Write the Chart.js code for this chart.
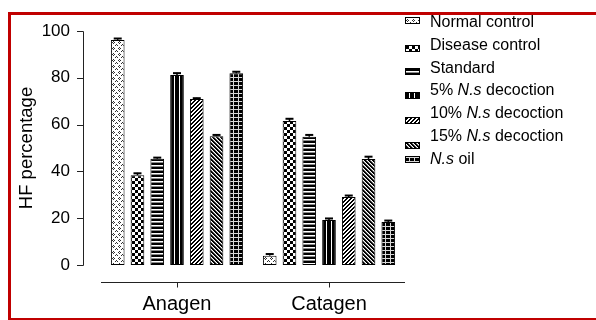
<!DOCTYPE html>
<html><head><meta charset="utf-8">
<script src="https://cdn.jsdelivr.net/npm/chart.js@4.4.1/dist/chart.umd.min.js"></script>
<style>html,body{margin:0;padding:0;background:#fff}#wrap{width:596px;height:320px;position:relative}canvas{display:block}</style>
</head><body><div id="wrap"><canvas id="c" width="596" height="320"></canvas></div>
<script>
// ---- data ----
const categories = ["Anagen", "Catagen"];
const seriesLabels = ["Normal control", "Disease control", "Standard", "5% N.s decoction", "10% N.s decoction", "15% N.s decoction", "N.s oil"];
const normalControl = [96.2, 4.0];
const diseaseControl = [38.4, 61.5];
const standardDrug = [45.4, 54.8];
const decoction5 = [81.2, 19.2];
const decoction10 = [70.9, 29.1];
const decoction15 = [55.0, 45.3];
const nsOil = [81.9, 18.4];
const errNormal = [0.8, 0.9];
const errDisease = [1.0, 1.2];
const errStandard = [0.7, 1.0];
const err5 = [1.0, 0.9];
const err10 = [0.6, 0.8];
const err15 = [0.8, 1.2];
const errOil = [0.9, 0.8];
const yTicks = [0, 20, 40, 60, 80, 100];
const axisTitle = "HF percentage";

const seriesValues = [normalControl, diseaseControl, standardDrug, decoction5, decoction10, decoction15, nsOil];
const seriesErrors = [errNormal, errDisease, errStandard, err5, err10, err15, errOil];

// ---- pattern tiles ----
const COLORS = {'#': '#000000', '.': '#ffffff', 'g': '#8a8a8a', 'l': '#d8d8d8', 'd': '#303030'};
function genTile(w, h, f) { const r = []; for (let y = 0; y < h; y++) { let s = ''; for (let x = 0; x < w; x++) s += f(x, y); r.push(s); } return r; }
const tiles = [
  ["......", ".d....", "d.d...", ".d....", "....d.", "...d.d"],           // normal: rings
  ["###...", "###...", "###...", "...###", "...###", "...###"],            // disease: checker
  ["#", "#", ".", "g"],                                                    // standard: horizontal lines
  ["###.#"],                                                               // 5%: vertical lines
  genTile(4, 4, (x, y) => { const k = (x + y) % 4; return (k < 2) ? '#' : '.'; }),                        // 10%: ////
  genTile(4, 4, (x, y) => { const k = ((x - y) % 4 + 4) % 4; return k < 2 ? '#' : (k === 2 ? 'g' : '.'); }), // 15%: \\\\
  ["lllll", "###l#", "###l#", "###l#"]                                     // oil: grid
];

function tileCanvas(rows) {
  const h = rows.length, w = rows[0].length;
  const cv = document.createElement('canvas');
  cv.width = w; cv.height = h;
  const c = cv.getContext('2d');
  for (let y = 0; y < h; y++) for (let x = 0; x < w; x++) {
    c.fillStyle = COLORS[rows[y][x]]; c.fillRect(x, y, 1, 1);
  }
  return cv;
}
const tileCanvases = tiles.map(tileCanvas);
const mainCtx = document.getElementById('c').getContext('2d');
const barPatterns = tileCanvases.map(tc => categories.map(() => mainCtx.createPattern(tc, 'repeat')));
const legendPatterns = tileCanvases.map(tc => mainCtx.createPattern(tc, 'repeat'));

// ---- plugins ----
const FONT = "'Liberation Sans', Arial, sans-serif";
const alignPatterns = {
  id: 'alignPatterns',
  beforeDatasetsDraw(chart) {
    chart.data.datasets.forEach((ds, d) => {
      const meta = chart.getDatasetMeta(d);
      meta.data.forEach((el, i) => {
        const left = Math.round(el.x - el.width / 2) + 1;
        barPatterns[d][i].setTransform(new DOMMatrix([1, 0, 0, 1, left, Math.round(el.y)]));
      });
    });
  }
};
const errorBars = {
  id: 'errorBars',
  afterDatasetsDraw(chart) {
    const ctx = chart.ctx, ys = chart.scales.y;
    ctx.save();
    ctx.strokeStyle = '#000';
    chart.data.datasets.forEach((ds, d) => {
      const meta = chart.getDatasetMeta(d);
      meta.data.forEach((el, i) => {
        const v = ds.data[i], e = seriesErrors[d][i];
        const yTop = ys.getPixelForValue(v + e);
        ctx.lineWidth = 1.5;
        ctx.beginPath(); ctx.moveTo(el.x, el.y); ctx.lineTo(el.x, yTop); ctx.stroke();
        ctx.lineWidth = 2;
        ctx.beginPath(); ctx.moveTo(el.x - 4, yTop + 0.5); ctx.lineTo(el.x + 4, yTop + 0.5); ctx.stroke();
      });
    });
    ctx.restore();
  }
};
// legend layout (pixel offsets only)
const LEG = { sx: 405, tx: 430, y0: 23, step: 22.8, swatchDy: [-3, 2, 2, 4, 6, 8, -1], sw: 15, sh: 7 };
const axesAndFrame = {
  id: 'axesAndFrame',
  beforeDraw(chart) {
    const ctx = chart.ctx;
    ctx.save();
    ctx.strokeStyle = '#c00000'; ctx.lineWidth = 3;
    ctx.strokeRect(9.5, 13.5, 620, 306);
    ctx.restore();
  },
  afterDraw(chart) {
    const ctx = chart.ctx, ys = chart.scales.y, xs = chart.scales.x, ca = chart.chartArea;
    ctx.save();
    ctx.strokeStyle = '#222'; ctx.lineWidth = 1;
    const ax = 83.5;
    ctx.beginPath();
    ctx.moveTo(ax, Math.round(ys.getPixelForValue(yTicks[yTicks.length - 1])) + 0.5);
    ctx.lineTo(ax, Math.round(ys.getPixelForValue(yTicks[0])) + 0.5);
    yTicks.forEach(t => { const y = Math.round(ys.getPixelForValue(t)) + 0.5; ctx.moveTo(77, y); ctx.lineTo(ax, y); });
    const bx = Math.round(ys.getPixelForValue(0)) + 17.5;
    ctx.moveTo(ca.left, bx); ctx.lineTo(ca.right, bx);
    categories.forEach((c, i) => { const x = Math.round(xs.getPixelForValue(i)) + 0.5; ctx.moveTo(x, bx); ctx.lineTo(x, bx + 5); });
    ctx.stroke();
    // legend
    ctx.textBaseline = 'middle';
    seriesLabels.forEach((lab, k) => {
      const ty = Math.round(LEG.y0 + k * LEG.step);
      const sy = Math.round(ty - LEG.sh / 2 + LEG.swatchDy[k]);
      const p = legendPatterns[k];
      p.setTransform(new DOMMatrix([1, 0, 0, 1, LEG.sx + 1, sy + 1]));
      ctx.fillStyle = '#000'; ctx.fillRect(LEG.sx, sy, LEG.sw, LEG.sh);
      ctx.fillStyle = p; ctx.fillRect(LEG.sx + 1, sy + 1, LEG.sw - 2, LEG.sh - 2);
      const parts = lab.split(/(N\.s)/);
      let x = LEG.tx;
      ctx.fillStyle = '#000';
      parts.forEach(part => {
        if (!part) return;
        ctx.font = (part === 'N.s' ? 'italic ' : '') + '16px ' + FONT;
        ctx.fillText(part, x, ty);
        x += ctx.measureText(part).width;
      });
    });
    ctx.restore();
  }
};

Chart.defaults.font.family = FONT;
Chart.defaults.color = '#000';

new Chart(document.getElementById('c'), {
  type: 'bar',
  data: {
    labels: categories,
    datasets: seriesLabels.map((lab, k) => ({
      label: lab,
      data: seriesValues[k],
      backgroundColor: barPatterns[k],
      borderColor: '#000',
      borderWidth: 1,
      borderSkipped: false,
      categoryPercentage: 0.91,
      barPercentage: 0.69
    }))
  },
  options: {
    responsive: false,
    devicePixelRatio: 1,
    animation: false,
    events: [],
    layout: { padding: { left: 0, top: 31, right: 191, bottom: 0 } },
    plugins: { legend: { display: false }, tooltip: { enabled: false } },
    scales: {
      x: {
        grid: { display: false, drawTicks: true, tickLength: 27 },
        border: { display: false },
        ticks: { padding: 0, font: { size: 20 }, color: '#000' },
        afterFit(s) { s.height = 55; }
      },
      y: {
        min: 0, max: 100,
        afterBuildTicks(s) { s.ticks = yTicks.map(v => ({ value: v })); },
        grid: { display: false, drawTicks: true, tickLength: 31 },
        border: { display: false },
        ticks: { padding: 0, font: { size: 17 }, color: '#000' },
        title: { display: true, text: axisTitle, font: { size: 18.5 }, color: '#000', padding: { top: 16 } },
        afterFit(s) { s.width = 101; }
      }
    }
  },
  plugins: [alignPatterns, errorBars, axesAndFrame]
});
</script></body></html>
